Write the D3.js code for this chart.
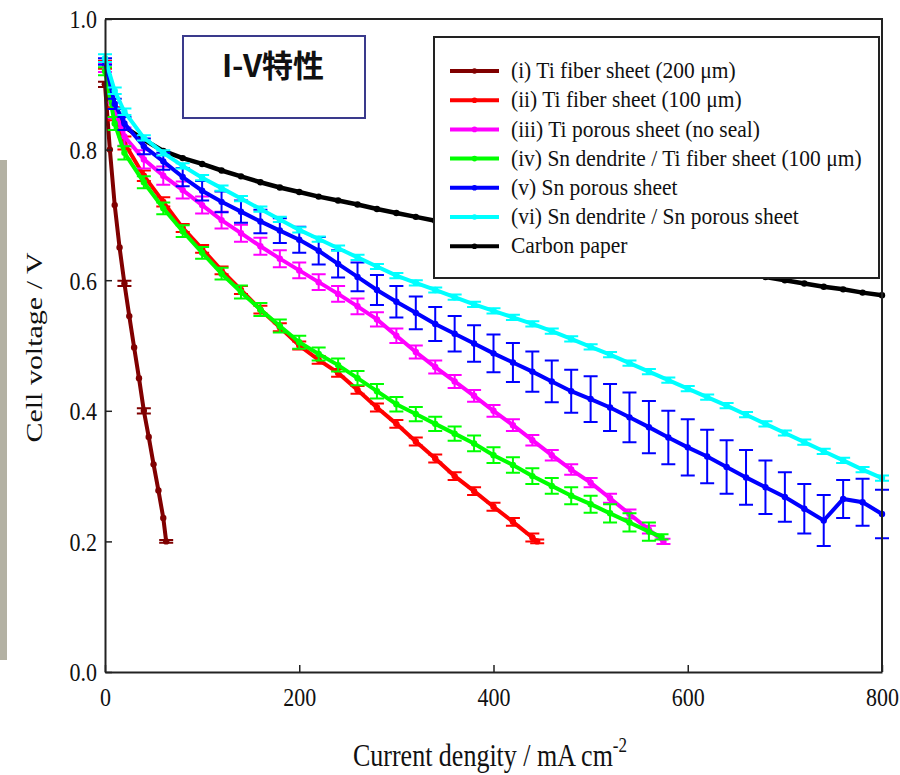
<!DOCTYPE html>
<html>
<head>
<meta charset="utf-8">
<script src="https://cdn.jsdelivr.net/npm/d3@7"></script>
<style>
  body { margin: 0; background: #fff; }
  svg { display: block; }
  svg text { font-family: "Liberation Serif", "DejaVu Serif", "Times New Roman", serif; }
  svg text.cjk { font-family: "Noto Sans CJK JP", "Noto Sans", sans-serif; }
</style>
</head>
<body>
<div id="chart"></div>
<script>
// current density steps (mA cm-2) used by most curves
const gridCurrent = [0, 10, 20, 40, 60, 80, 100, 120, 140, 160, 180, 200, 220, 240, 260, 280, 300, 320, 340, 360,
    380, 400, 420, 440, 460, 480, 500, 520, 540, 560, 580, 600, 620, 640, 660, 680, 700, 720, 740, 760, 780, 800];

// (i) Ti fiber sheet (200 um)
const tiFiber200Current = [0, 5, 10, 15, 20, 25, 30, 35, 40, 45, 50, 55, 60, 63];
const tiFiber200Voltage = [0.90, 0.80, 0.715, 0.65, 0.595, 0.545, 0.497, 0.45, 0.40, 0.36, 0.318, 0.278, 0.236, 0.20];
const tiFiber200Error = [0.004, 0, 0, 0, 0.004, 0, 0, 0, 0.004, 0, 0, 0, 0, 0.002];

// (ii) Ti fiber sheet (100 um)
const tiFiber100Current = gridCurrent.slice(0, 24).concat([445]);
const tiFiber100Voltage = [0.93, 0.855, 0.81, 0.76, 0.72, 0.68, 0.648, 0.615, 0.585, 0.555, 0.528, 0.50, 0.478, 0.458,
    0.432, 0.405, 0.38, 0.353, 0.327, 0.30, 0.277, 0.253, 0.23, 0.206, 0.20];
const tiFiber100Error = [0.006, 0.01, 0.01, 0.008, 0.007, 0.006, 0.006, 0.006, 0.006, 0.006, 0.006, 0.006, 0.006, 0.006,
    0.006, 0.006, 0.006, 0.006, 0.006, 0.006, 0.006, 0.006, 0.006, 0.006, 0.003];

// (iii) Ti porous sheet (no seal)
const tiPorousCurrent = gridCurrent.slice(0, 30).concat([575]);
const tiPorousVoltage = [0.925, 0.86, 0.82, 0.785, 0.76, 0.738, 0.715, 0.692, 0.672, 0.652, 0.633, 0.615, 0.597, 0.579,
    0.56, 0.54, 0.515, 0.49, 0.467, 0.445, 0.423, 0.40, 0.378, 0.355, 0.332, 0.31, 0.29, 0.266, 0.242, 0.218, 0.20];
const tiPorousError = [0.006, 0.012, 0.014, 0.014, 0.014, 0.013, 0.013, 0.013, 0.013, 0.013, 0.013, 0.012, 0.012, 0.012,
    0.012, 0.011, 0.011, 0.01, 0.01, 0.01, 0.009, 0.009, 0.009, 0.008, 0.008, 0.008, 0.007, 0.007, 0.007, 0.006, 0.004];

// (iv) Sn dendrite / Ti fiber sheet (100 um)
const snDendTiCurrent = gridCurrent.slice(0, 30).concat([573]);
const snDendTiVoltage = [0.92, 0.84, 0.795, 0.75, 0.71, 0.675, 0.642, 0.61, 0.582, 0.555, 0.53, 0.505, 0.487, 0.47,
    0.45, 0.43, 0.41, 0.395, 0.38, 0.365, 0.35, 0.332, 0.317, 0.30, 0.285, 0.27, 0.257, 0.243, 0.229, 0.215, 0.207];
const snDendTiError = [0.006, 0.01, 0.01, 0.009, 0.009, 0.009, 0.009, 0.009, 0.01, 0.01, 0.01, 0.01, 0.01, 0.01,
    0.011, 0.011, 0.011, 0.011, 0.011, 0.011, 0.012, 0.012, 0.012, 0.012, 0.012, 0.013, 0.013, 0.014, 0.014, 0.014, 0.004];

// (v) Sn porous sheet
const snPorousVoltage = [0.935, 0.87, 0.84, 0.805, 0.782, 0.758, 0.737, 0.72, 0.705, 0.69, 0.676, 0.662, 0.645, 0.625,
    0.605, 0.585, 0.567, 0.55, 0.533, 0.518, 0.503, 0.488, 0.474, 0.46, 0.445, 0.43, 0.418, 0.405, 0.39, 0.375, 0.359,
    0.344, 0.33, 0.314, 0.298, 0.283, 0.268, 0.25, 0.232, 0.265, 0.26, 0.242];
const snPorousError = [0.005, 0.008, 0.01, 0.012, 0.013, 0.014, 0.015, 0.016, 0.017, 0.018, 0.019, 0.02, 0.021, 0.021,
    0.022, 0.023, 0.024, 0.025, 0.026, 0.027, 0.028, 0.029, 0.03, 0.031, 0.032, 0.033, 0.035, 0.036, 0.038, 0.04, 0.041,
    0.043, 0.041, 0.041, 0.042, 0.041, 0.038, 0.038, 0.039, 0.029, 0.036, 0.037];

// (vi) Sn dendrite / Sn porous sheet
const snDendSnVoltage = [0.94, 0.89, 0.858, 0.818, 0.795, 0.775, 0.757, 0.741, 0.725, 0.709, 0.693, 0.677, 0.663, 0.649,
    0.635, 0.621, 0.607, 0.596, 0.585, 0.574, 0.563, 0.553, 0.543, 0.533, 0.522, 0.51, 0.498, 0.486, 0.473, 0.46, 0.447,
    0.434, 0.421, 0.408, 0.394, 0.38, 0.366, 0.352, 0.338, 0.324, 0.31, 0.297];
const snDendSnError = [0.006, 0.005, 0.005, 0.004, 0.004, 0.004, 0.004, 0.004, 0.004, 0.004, 0.004, 0.004, 0.004, 0.004,
    0.004, 0.004, 0.004, 0.004, 0.004, 0.004, 0.004, 0.004, 0.004, 0.004, 0.004, 0.004, 0.004, 0.004, 0.004, 0.004, 0.004,
    0.004, 0.004, 0.004, 0.004, 0.004, 0.004, 0.004, 0.004, 0.004, 0.004, 0.004];

// Carbon paper (no error bars)
const carbonVoltage = [0.90, 0.86, 0.835, 0.815, 0.798, 0.787, 0.778, 0.768, 0.759, 0.75, 0.742, 0.735, 0.728, 0.722,
    0.716, 0.709, 0.703, 0.697, 0.691, 0.685, 0.68, 0.675, 0.67, 0.665, 0.66, 0.655, 0.65, 0.645, 0.64, 0.635, 0.63,
    0.625, 0.62, 0.615, 0.61, 0.605, 0.60, 0.595, 0.59, 0.586, 0.581, 0.577];

const xTicks = [0, 200, 400, 600, 800];
const yTicks = [0, 0.2, 0.4, 0.6, 0.8, 1.0];

const seriesList = [
    { name: 'Carbon paper', color: '#000000', current: gridCurrent, voltage: carbonVoltage, error: null },
    { name: '(i) Ti fiber sheet (200 \u03bcm)', color: '#800000', current: tiFiber200Current, voltage: tiFiber200Voltage, error: tiFiber200Error },
    { name: '(ii) Ti fiber sheet (100 \u03bcm)', color: '#ff0000', current: tiFiber100Current, voltage: tiFiber100Voltage, error: tiFiber100Error },
    { name: '(iii) Ti porous sheet (no seal)', color: '#ff00ff', current: tiPorousCurrent, voltage: tiPorousVoltage, error: tiPorousError },
    { name: '(iv) Sn dendrite / Ti fiber sheet (100 \u03bcm)', color: '#00ff00', current: snDendTiCurrent, voltage: snDendTiVoltage, error: snDendTiError },
    { name: '(v) Sn porous sheet', color: '#0000ff', current: gridCurrent, voltage: snPorousVoltage, error: snPorousError },
    { name: '(vi) Sn dendrite / Sn porous sheet', color: '#00ffff', current: gridCurrent, voltage: snDendSnVoltage, error: snDendSnError }
];
const legendOrder = [1, 2, 3, 4, 5, 6, 0];

const chartWidth = 900;
const chartHeight = 775;
const plotLeft = 105, plotRight = 882, plotTop = 19, plotBottom = 672;
// the scanned figure is a little stretched vertically, text included
const textStretch = 1.25;

const xScale = d3.scaleLinear().domain([0, 800]).range([plotLeft, plotRight]);
const yScale = d3.scaleLinear().domain([0, 1]).range([plotBottom, plotTop]);

const svg = d3.select('#chart')
    .append('svg')
    .attr('width', chartWidth)
    .attr('height', chartHeight);

// grey strip at the far left of the scanned figure
svg.append('rect')
    .attr('x', 0).attr('y', 160)
    .attr('width', 7).attr('height', 500)
    .attr('fill', '#b3b1a3');

// curves
const line = d3.line()
    .x(d => xScale(d[0]))
    .y(d => yScale(d[1]));

seriesList.forEach(s => {
    const pts = s.current.map((c, i) => [c, s.voltage[i], s.error ? s.error[i] : 0]);
    const g = svg.append('g');
    const thick = s.error ? 4 : 4.5;

    g.selectAll('path.err')
        .data(pts.filter(d => d[2] > 0))
        .enter()
        .append('path')
        .attr('class', 'err')
        .attr('d', d => {
            const x = xScale(d[0]);
            const y1 = yScale(d[1] + d[2]);
            const y2 = yScale(d[1] - d[2]);
            return 'M' + (x - 7) + ',' + y1 + 'H' + (x + 7) +
                'M' + x + ',' + y1 + 'V' + y2 +
                'M' + (x - 7) + ',' + y2 + 'H' + (x + 7);
        })
        .attr('fill', 'none')
        .attr('stroke', s.color)
        .attr('stroke-width', 2);

    g.append('path')
        .datum(pts)
        .attr('d', line)
        .attr('fill', 'none')
        .attr('stroke', s.color)
        .attr('stroke-width', thick);

    g.selectAll('circle')
        .data(pts)
        .enter()
        .append('circle')
        .attr('cx', d => xScale(d[0]))
        .attr('cy', d => yScale(d[1]))
        .attr('r', 3.2)
        .attr('fill', s.color);
});

// axes (ticks point inward)
const xAxis = d3.axisBottom(xScale)
    .tickValues(xTicks)
    .tickSizeInner(-7)
    .tickSizeOuter(0)
    .tickPadding(14)
    .tickFormat(d3.format('d'));

const yAxis = d3.axisLeft(yScale)
    .tickValues(yTicks)
    .tickSizeInner(-7)
    .tickSizeOuter(0)
    .tickPadding(8)
    .tickFormat(d3.format('.1f'));

const gx = svg.append('g')
    .attr('transform', 'translate(0,' + plotBottom + ')')
    .call(xAxis);

const gy = svg.append('g')
    .attr('transform', 'translate(' + plotLeft + ',0)')
    .call(yAxis);

[gx, gy].forEach(g => {
    g.attr('font-family', null);
    g.selectAll('text')
        .attr('font-size', 22)
        .attr('fill', '#111')
        .attr('transform', 'scale(1,1.15)');
    g.selectAll('line').attr('stroke', '#222').attr('stroke-width', 1.5);
    g.select('.domain').attr('stroke', '#222').attr('stroke-width', 2);
});
gy.selectAll('text').attr('dy', '0.35em');

// frame top and right
svg.append('path')
    .attr('d', 'M' + plotLeft + ',' + plotTop + 'H' + plotRight + 'V' + plotBottom)
    .attr('fill', 'none')
    .attr('stroke', '#222')
    .attr('stroke-width', 2);

// axis titles
svg.append('text')
    .attr('transform', 'translate(42,' + ((plotTop + plotBottom) / 2 + 2) + ') scale(1,' + textStretch + ') rotate(-90)')
    .attr('text-anchor', 'middle')
    .attr('font-size', 24)
    .attr('fill', '#111')
    .text('Cell voltage / V');

const xTitle = svg.append('text')
    .attr('transform', 'translate(490,766) scale(1,' + textStretch + ')')
    .attr('text-anchor', 'middle')
    .attr('font-size', 26)
    .attr('fill', '#111');
xTitle.append('tspan').text('Current dengity / mA cm');
xTitle.append('tspan').attr('dy', -11).attr('font-size', 17).text('-2');

// title box
svg.append('rect')
    .attr('x', 183).attr('y', 36)
    .attr('width', 182).attr('height', 82)
    .attr('fill', '#fff')
    .attr('stroke', '#3a3a8c')
    .attr('stroke-width', 2);

svg.append('text')
    .attr('class', 'cjk')
    .attr('x', 273)
    .attr('y', 77)
    .attr('text-anchor', 'middle')
    .attr('font-weight', 'bold')
    .attr('font-size', 31)
    .attr('fill', '#111')
    .text('I-V特性');

// legend box (covers part of the carbon paper curve)
svg.append('rect')
    .attr('x', 434).attr('y', 37)
    .attr('width', 445).attr('height', 241)
    .attr('fill', '#fff')
    .attr('stroke', '#222')
    .attr('stroke-width', 2);

const legend = svg.append('g')
    .selectAll('g')
    .data(legendOrder.map(i => seriesList[i]))
    .enter()
    .append('g')
    .attr('transform', (d, i) => 'translate(450,' + (71 + i * 29.2) + ')');

legend.append('line')
    .attr('x1', 0).attr('x2', 49)
    .attr('stroke', d => d.color)
    .attr('stroke-width', 4);

legend.append('circle')
    .attr('cx', 24.5)
    .attr('r', 2.8)
    .attr('fill', d => d.color);

legend.append('text')
    .attr('x', 61)
    .attr('y', 6.5)
    .attr('transform', 'scale(1,1.1)')
    .attr('font-size', 21.5)
    .attr('fill', '#111')
    .text(d => d.name);
</script>
</body>
</html>
